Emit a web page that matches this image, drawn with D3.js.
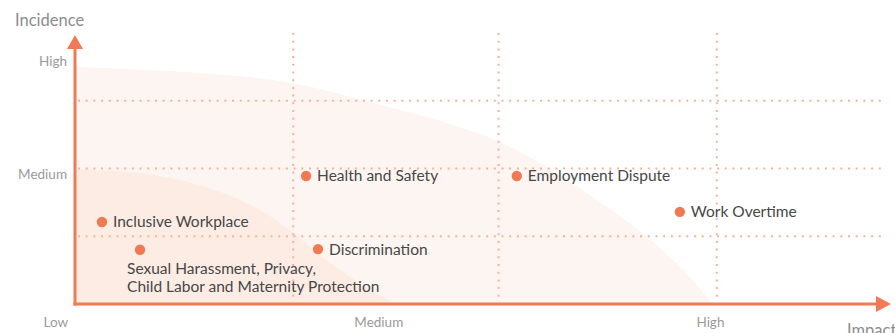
<!DOCTYPE html>
<meta charset="utf-8">
<style>

body {
  margin: 0;
}

text {
  font-family: Lato, "Open Sans", sans-serif;
}

.tick-label {
  font-size: 13.5px;
  fill: #9a9a9a;
}

.axis-title {
  font-size: 16.5px;
  fill: #8c8c8c;
}

.grid line {
  stroke: #f5b29a;
  stroke-width: 2;
  stroke-dasharray: 2, 5.7;
}

.issue circle {
  fill: #ef7a52;
}

.issue text {
  font-size: 15.5px;
  fill: #474747;
}

</style>
<svg width="895" height="333"></svg>
<script src="https://cdn.jsdelivr.net/npm/d3@7"></script>
<script>

// issues plotted by impact (x) and incidence (y)
var issues = ["Inclusive Workplace", "Sexual Harassment, Privacy,\nChild Labor and Maternity Protection", "Health and Safety", "Discrimination", "Employment Dispute", "Work Overtime"],
    impact = [0.126, 0.304, 1.08, 1.136, 2.065, 2.827],
    incidence = [1.21, 0.80, 1.89, 0.81, 1.89, 1.36],
    labelBelow = [false, true, false, false, false, false];

var xTicks = ["Low", "Medium", "High"],
    xTickAt = [-0.09, 1.42, 2.97],
    yTicks = ["High", "Medium"],
    yTickAt = [3.59, 1.91];

var xGrid = [1.02, 1.98, 3],
    yGrid = [1, 2, 3];

// outlines of the two shaded zones
var outerZone = [[0, 3.5], [0.538, 3.42], [1.019, 3.26], [1.426, 2.94], [1.739, 2.67], [1.987, 2.39], [2.207, 2.02], [2.44, 1.535], [2.674, 0.99], [2.828, 0.546], [2.983, 0]],
    innerZone = [[0, 1.99], [0.308, 1.93], [0.607, 1.73], [0.84, 1.43], [1.0, 1.1], [1.15, 0.71], [1.31, 0.35], [1.5, 0]];

var svg = d3.select("svg");

var x = d3.scaleLinear().domain([0, 3.8]).range([75, 888]),
    y = d3.scaleLinear().domain([0, 4]).range([304, 33]);

var zone = d3.line()
    .x(function(d) { return x(d[0]); })
    .y(function(d) { return y(d[1]); })
    .curve(d3.curveCatmullRom.alpha(0.5));

function zonePath(pts) {
  return zone(pts) + "L" + x(0) + "," + y(0) + "Z";
}

svg.append("path")
    .attr("d", zonePath(outerZone))
    .attr("fill", "#fdf5f1");

svg.append("path")
    .attr("d", zonePath(innerZone))
    .attr("fill", "#fcece4");

var grid = svg.append("g").attr("class", "grid");

grid.selectAll(".v")
    .data(xGrid)
  .enter().append("line")
    .attr("x1", x).attr("x2", x)
    .attr("y1", y(4)).attr("y2", y(0) - 6);

grid.selectAll(".h")
    .data(yGrid)
  .enter().append("line")
    .attr("y1", y).attr("y2", y)
    .attr("x1", x(0) + 3).attr("x2", x(3.79));

// axes with arrowheads
var axisColor = "#ef7a55";

svg.append("line")
    .attr("x1", x(0)).attr("x2", x(0))
    .attr("y1", y(0) + 1.5).attr("y2", 46)
    .attr("stroke", axisColor).attr("stroke-width", 3);

svg.append("path")
    .attr("d", "M" + x(0) + ",35L" + (x(0) + 8) + ",49L" + (x(0) - 8) + ",49Z")
    .attr("fill", axisColor);

svg.append("line")
    .attr("x1", x(0) - 1.5).attr("x2", 878)
    .attr("y1", y(0)).attr("y2", y(0))
    .attr("stroke", axisColor).attr("stroke-width", 3);

svg.append("path")
    .attr("d", "M891," + y(0) + "L876," + (y(0) - 8) + "L876," + (y(0) + 8) + "Z")
    .attr("fill", axisColor);

svg.append("text")
    .attr("class", "axis-title")
    .attr("x", 15).attr("y", 26)
    .text("Incidence");

svg.append("text")
    .attr("class", "axis-title")
    .attr("x", 847).attr("y", 336)
    .text("Impact");

svg.selectAll(".xtick")
    .data(xTicks)
  .enter().append("text")
    .attr("class", "tick-label")
    .attr("text-anchor", "middle")
    .attr("x", function(d, i) { return x(xTickAt[i]); })
    .attr("y", 327)
    .text(function(d) { return d; });

svg.selectAll(".ytick")
    .data(yTicks)
  .enter().append("text")
    .attr("class", "tick-label")
    .attr("text-anchor", "end")
    .attr("x", 67)
    .attr("y", function(d, i) { return y(yTickAt[i]); })
    .attr("dy", ".35em")
    .text(function(d) { return d; });

var issue = svg.selectAll(".issue")
    .data(issues)
  .enter().append("g")
    .attr("class", "issue")
    .attr("transform", function(d, i) { return "translate(" + x(impact[i]) + "," + y(incidence[i]) + ")"; });

issue.append("circle")
    .attr("r", 5.2);

issue.append("text")
    .attr("x", function(d, i) { return labelBelow[i] ? -13 : 11; })
    .attr("y", function(d, i) { return labelBelow[i] ? 19 : 0; })
    .each(function(d) {
      var t = d3.select(this);
      d.split("\n").forEach(function(line, j) {
        t.append("tspan")
            .attr("x", t.attr("x"))
            .attr("dy", j ? "18" : ".35em")
            .text(line);
      });
    });

</script>
